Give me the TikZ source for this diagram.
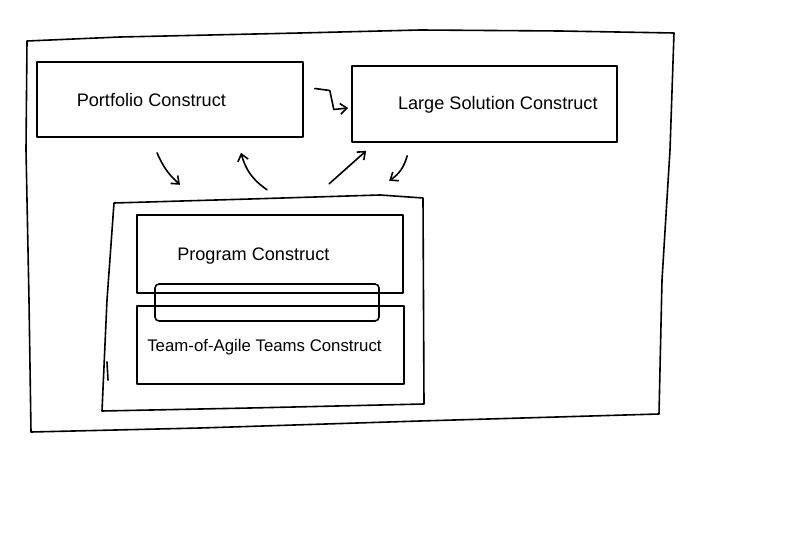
\documentclass[tikz,border=0pt]{standalone}
\usepackage{fontspec}
\setmainfont{Liberation Sans}
\usetikzlibrary{arrows.meta,calc}
\tikzset{
  sketch/.style={line width=1.2pt, line join=round, line cap=round},
  construct/.style={sketch, draw, rectangle, text height=14pt, text depth=3.5pt,
    font=\fontsize{13.6}{16}\selectfont},
  flow/.style={sketch, -{Straight Barb[length=5pt,width=8pt]}}
}
\begin{document}
\begin{tikzpicture}[x=0.75pt, y=-0.75pt]
  \useasboundingbox (0,0) rectangle (800,552);
  % outer frame
  \draw[sketch] (27,41) -- (120,37) -- (300,33) -- (420,30) -- (560,31) -- (674,33)
    -- (670,150) -- (662,280) -- (659,414) -- (420,421) -- (200,428) -- (31,432)
    -- (29,300) -- (26,150) -- cycle;
  % top boxes
  \node[construct, minimum width=199.5pt, minimum height=56.25pt] (portfolio) at (170,99.5)
    {\hspace*{-28pt}Portfolio Construct};
  \node[construct, minimum width=198.75pt, minimum height=57pt, text height=12pt]
    (large) at (484.5,104) {\hspace*{20pt}Large Solution Construct};
  % inner frame
  \draw[sketch] (114,203) -- (250,199) -- (380,195) -- (423,198) -- (424,404)
    -- (250,408) -- (102,411) -- (107,300) -- cycle;
  \draw[sketch] (107,362) -- (108,380);
  \node[construct, minimum width=199.5pt, minimum height=58.5pt] (program) at (270,254)
    {\hspace*{-25pt}Program Construct};
  \node[construct, font=\fontsize{12.6}{15}\selectfont, minimum width=200.25pt, minimum height=58.5pt]
    (teams) at (270.5,345) {\hspace*{-9pt}Team-of-Agile Teams Construct};
  \node[sketch, draw, rounded corners=3pt, minimum width=168pt, minimum height=27.75pt]
    (overlap) at (267,302.5) {};
  % connectors
  \draw[flow] ($(portfolio.east)+(11,-11)$) -- ++(15,2) -- ++(4,19) -- ($(large.west)+(-3,4)$);
  \draw[flow] ($(portfolio.south)+(-13,15)$) to[bend right=12] ++(23,32);
  \draw[flow] ($(portfolio.south)+(97,52)$) to[bend left=20] ++(-26,-37);
  \draw[flow] ($(large.south west)+(-22,41)$) -- ++(37,-33);
  \draw[flow] ($(large.south west)+(56,13)$) to[bend left=20] ++(-18,25);
\end{tikzpicture}
\end{document}
